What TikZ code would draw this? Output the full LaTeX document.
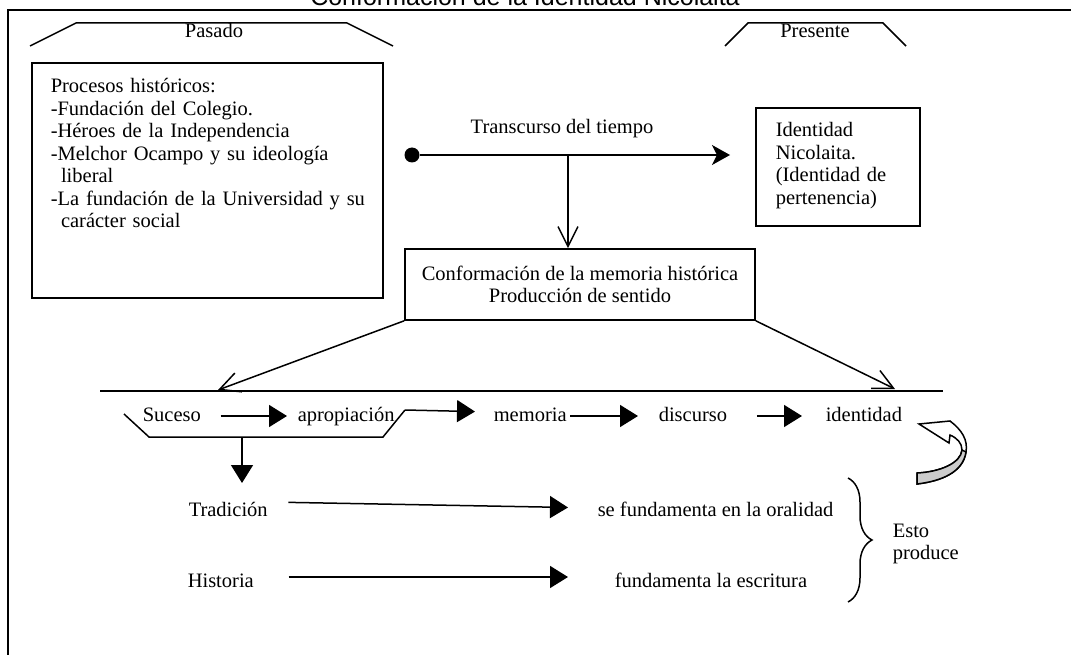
\documentclass[tikz,border=0pt]{standalone}
\usepackage{fontspec}
\setmainfont{Liberation Serif}
\newfontfamily\titlefont{Liberation Sans}
\usetikzlibrary{arrows.meta,decorations.pathreplacing}

\tikzset{
  caja/.style={draw, line width=1.6pt, inner sep=0pt},
  texto/.style={inner sep=0pt},
  flecha/.style={line width=1.5pt, -{Triangle[length=18pt,width=22pt]}},
  flechat/.style={line width=1.5pt, -{Stealth[length=18pt,width=20pt,inset=5pt]}},
  flechav/.style={line width=1.5pt, -{Straight Barb[length=20pt,width=20pt]}}
}

\begin{document}
\begin{tikzpicture}[
        x=1pt, y=-1pt,
        line width=1.5pt,
        font=\fontsize{20.5}{22.5}\selectfont
    ]
    \useasboundingbox (0,0) rectangle (1071,655);

    % ---------- marco y titulo ----------
    \draw[line width=2.2pt] (8,655) -- (8,10) -- (1071,10);
    \node[texto, anchor=base, font={\titlefont\fontsize{25}{28}\selectfont}] (titulo) at (525,6)
        {Conformación de la Identidad Nicolaita};

    % ---------- pasado / presente ----------
    \draw (30,46) -- (76,23) -- (347,23) -- (393,46);
    \node[texto, anchor=base] (pasado) at (214,38) {Pasado};
    \draw (725,46) -- (748,23) -- (883,23) -- (906,46);
    \node[texto, anchor=base] (presente) at (815,38) {Presente};

    % ---------- procesos historicos ----------
    \node[caja, anchor=north west, minimum width=351pt, minimum height=235pt] (procesos) at (31,62) {};
    \node[texto, anchor=base west, text width=330pt, align=left] (listaproc) at (50,93)
        {Procesos históricos:\\-Fundación del Colegio.\\-Héroes de la Independencia\\-Melchor Ocampo y su ideología\\\hspace*{0.5em}liberal\\-La fundación de la Universidad y su\\\hspace*{0.5em}carácter social};

    % ---------- transcurso del tiempo ----------
    \node[circle, fill, inner sep=0pt, minimum size=15pt] (punto) at (412,155) {};
    \node[texto, anchor=base] (transcurso) at (562,134) {Transcurso del tiempo};
    \node[caja, anchor=north west, minimum width=164pt, minimum height=118pt] (identbox) at (755,107) {};
    \node[texto, anchor=base west, text width=140pt, align=left] (identtexto) at (775,137)
        {Identidad\\Nicolaita.\\(Identidad de\\pertenencia)};
    \draw[flechat, shorten >=25pt] (punto) -- (punto -| identbox.west);

    \coordinate (bajada) at (568,155);
    \node[caja, minimum width=350pt, minimum height=71pt, align=center] (memhist) at (580,284.5)
        {Conformación de la memoria histórica\\Producción de sentido};
    \draw[flechav] (bajada) -- (bajada |- memhist.north);

    % ---------- linea inferior ----------
    \coordinate (lineaizq) at (100,391);
    \coordinate (lineader) at (943,391);
    \draw (lineaizq) -- (lineader);
    \coordinate (pizq) at (218,390);
    \coordinate (pder) at (895,389);
    \draw[flechav] (memhist.south west) -- (pizq);
    \draw[flechav] (memhist.south east) -- (pder);

    % ---------- cadena ----------
    \node[texto, anchor=base west] (suceso) at (142,421) {Suceso};
    \node[texto, anchor=base west] (apropiacion) at (297,421) {apropiación};
    \node[texto, anchor=base west] (memoria) at (493,421) {memoria};
    \node[texto, anchor=base west] (discurso) at (658,421) {discurso};
    \node[texto, anchor=base west] (identidad) at (825,421) {identidad};

    \draw (124,414) -- (149,437) -- (383,437) -- (405,410);
    \coordinate (esquina) at (405,410);

    \draw[flecha, shorten <=19pt, shorten >=10pt] ([yshift=5pt]suceso.base east) -- ([yshift=5pt]apropiacion.base west);
    \draw[flecha, shorten >=18pt] (esquina) -- ([yshift=9pt]memoria.base west);
    \draw[flecha, shorten <=3pt, shorten >=20pt] ([yshift=5pt]memoria.base east) -- ([yshift=5pt]discurso.base west);
    \draw[flecha, shorten <=29pt, shorten >=23pt] ([yshift=5pt]discurso.base east) -- ([yshift=5pt]identidad.base west);

    % ---------- tradicion / historia ----------
    \coordinate (trapbase) at (242,437);
    \coordinate (puntatrad) at (242,483);
    \draw[flecha] (trapbase) -- (puntatrad);

    \node[texto, anchor=base west] (tradicion) at (188,516) {Tradición};
    \node[texto, anchor=base west] (oralidad) at (597,516) {se fundamenta en la oralidad};
    \node[texto, anchor=base west] (historia) at (187,587) {Historia};
    \node[texto, anchor=base west] (escritura) at (614,587) {fundamenta la escritura};

    \draw[flecha, shorten <=20pt, shorten >=29pt] ([yshift=14pt]tradicion.base east) -- ([yshift=8pt]oralidad.base west);
    \draw[flecha, shorten <=34pt, shorten >=46pt] ([yshift=10pt]historia.base east) -- ([yshift=10pt]escritura.base west);

    % ---------- llave ----------
    \draw[decorate, decoration={brace, amplitude=24pt}] (848,478) -- (848,602);
    \node[texto, anchor=base west, text width=90pt, align=left] (esto) at (892,537) {Esto\\produce};

    % ---------- flecha curva ----------
    \filldraw[fill=white] (919,424) -- (950,421) .. controls (962,430) and (968,440) .. (966,452)
        .. controls (963,472) and (942,481) .. (917,484) -- (917,473)
        .. controls (940,472) and (961,463) .. (962,450)
        .. controls (962,443) and (957,438) .. (950,435) -- (949,443) -- cycle;
    \filldraw[fill=gray!40] (962,450) .. controls (961,463) and (940,472) .. (917,473) -- (917,484)
        .. controls (942,481) and (963,472) .. (966,452) -- cycle;

\end{tikzpicture}
\end{document}
